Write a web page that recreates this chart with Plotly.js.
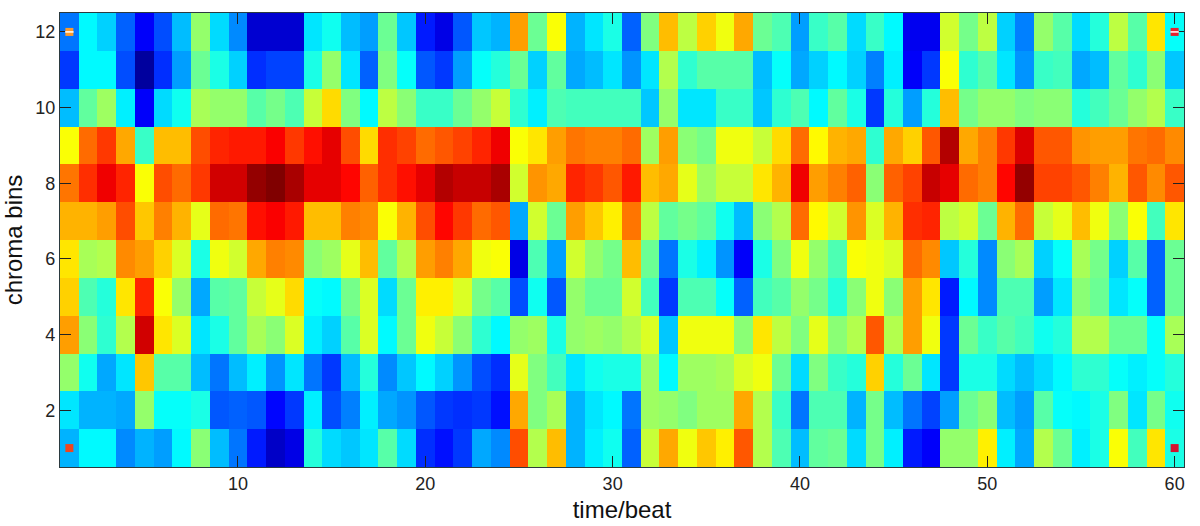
<!DOCTYPE html>
<html>
<head>
<meta charset="utf-8">
<script src="https://cdn.plot.ly/plotly-3.0.1.min.js"></script>
<style>
  html, body { margin: 0; padding: 0; background: #fff; }
  #chart { width: 1200px; height: 526px; }
</style>
</head>
<body>
<div id="chart"></div>
<script>
// Chroma level per beat (0 = dark blue, 100 = dark red)
const row12 = [24,37,33,22,12,20,31,52,34,26,8,8,8,35,39,31,28,48,32,15,10,21,32,30,72,48,62,30,35,40,22,50,69,56,67,61,71,48,45,28,43,46,34,43,37,11,11,58,49,56,33,25,52,46,34,41,56,46,65,38]
const row11 = [18,37,37,20,3,17,28,48,40,33,17,19,19,40,52,35,22,50,38,21,18,28,38,41,48,33,47,29,31,35,27,35,55,42,46,46,46,31,38,29,33,37,33,25,36,12,18,62,42,46,35,27,43,44,29,31,47,42,51,32]
const row10 = [31,47,53,36,12,34,39,54,52,52,46,49,45,57,66,50,37,56,51,43,43,48,52,57,42,36,45,44,44,44,44,32,52,35,35,43,43,32,42,45,37,47,40,18,41,28,41,69,49,52,52,50,51,51,41,44,48,52,55,43]
const row9 = [62,77,82,71,43,69,69,80,84,85,85,88,82,86,90,80,66,83,81,77,79,81,84,89,62,65,72,76,75,75,77,53,72,51,49,61,61,57,66,77,63,70,71,42,71,67,79,95,71,75,82,91,79,79,73,72,72,76,77,74]
const row8 = [76,83,89,84,62,80,77,82,92,92,98,100,96,90,90,87,78,83,86,90,95,93,93,96,58,73,71,84,82,79,85,69,71,60,53,57,57,65,70,89,72,75,78,51,78,81,93,90,77,75,87,98,81,81,79,75,70,79,74,79]
const row7 = [70,70,72,80,68,75,70,60,77,76,86,88,85,69,69,75,74,62,70,80,87,82,77,79,29,58,48,72,68,64,76,56,47,49,47,39,31,51,55,77,63,58,73,59,70,83,84,56,58,48,70,77,57,60,69,61,51,62,44,65]
const row6 = [65,54,55,74,72,67,59,40,61,58,71,75,74,51,53,60,69,47,55,72,75,71,61,62,10,45,28,58,52,49,69,48,24,40,36,27,12,40,50,61,52,45,62,61,59,77,74,32,41,26,51,54,33,38,54,49,33,46,22,48]
const row5 = [67,45,41,65,84,62,52,29,46,47,57,60,66,38,37,49,59,34,48,64,64,59,49,46,20,39,21,52,48,48,58,44,18,45,45,38,22,44,46,52,49,41,51,61,51,72,65,15,37,26,45,45,28,35,51,48,35,38,22,48]
const row4 = [72,51,42,55,92,65,59,35,40,47,54,51,59,36,33,46,59,37,48,61,57,51,42,37,52,53,40,52,53,52,55,59,32,61,61,61,51,65,56,50,60,51,55,79,55,72,61,18,48,43,46,44,39,41,55,55,48,48,38,54]
const row3 = [52,39,29,35,68,46,46,31,24,31,36,27,35,24,18,31,41,26,32,37,33,27,20,17,60,50,44,35,39,40,40,53,37,53,53,54,59,61,48,34,50,43,41,67,41,48,35,18,40,40,34,31,34,37,42,42,38,36,38,41]
const row2 = [35,30,30,29,52,38,38,40,21,22,21,13,18,36,20,25,36,29,27,21,18,17,18,14,71,50,54,30,35,37,24,53,52,50,53,53,71,55,43,24,45,45,30,49,31,24,19,28,48,51,31,28,46,38,37,40,50,35,49,39]
const row1 = [30,37,37,26,30,28,37,51,31,24,15,7,10,41,34,32,35,46,34,17,14,18,29,26,80,55,69,30,36,39,22,57,71,61,68,64,79,55,45,31,47,48,34,49,36,15,12,52,52,64,36,29,55,48,36,40,62,44,65,40]

const beats = Array.from({ length: 60 }, (_, i) => i + 1)
const bins = Array.from({ length: 12 }, (_, i) => i + 1)

const cornerX = [1, 1, 60, 60]
const cornerY = [1, 12, 1, 12]
const cornerColors = ["#f0451f", "#fb9a2c", "#d4122f", "#e8202e"]
const dashX = [1, 60]
const dashY = [12, 12]

const xTicks = [10, 20, 30, 40, 50, 60]
const yTicks = [2, 4, 6, 8, 10, 12]
const xRange = [0.5, 60.5]
const yRange = [0.5, 12.5]

const jet = [
  [0, "rgb(0,0,128)"],
  [0.125, "rgb(0,0,255)"],
  [0.375, "rgb(0,255,255)"],
  [0.625, "rgb(255,255,0)"],
  [0.875, "rgb(255,0,0)"],
  [1, "rgb(128,0,0)"],
]

const traces = [
  {
    type: "heatmap",
    x: beats,
    y: bins,
    z: [row1, row2, row3, row4, row5, row6, row7, row8, row9, row10, row11, row12],
    zmin: 0,
    zmax: 100,
    colorscale: jet,
    showscale: false,
  },
  // Markers on a second, hidden subplot so they sit on top of the ticks
  {
    type: "scatter",
    mode: "markers",
    x: cornerX,
    y: cornerY,
    xaxis: "x2",
    yaxis: "y2",
    marker: { symbol: "square", size: 8, color: cornerColors },
    showlegend: false,
  },
  {
    type: "scatter",
    mode: "markers",
    x: dashX,
    y: dashY,
    xaxis: "x2",
    yaxis: "y2",
    marker: { symbol: "line-ew", size: 6, line: { color: "#ffffff", width: 1.5 } },
    showlegend: false,
  },
]

const axisFont = { family: "Liberation Sans, Arial, sans-serif", size: 18, color: "#222" }
const titleFont = { family: "Liberation Sans, Arial, sans-serif", size: 24, color: "#111" }

const layout = {
  width: 1200,
  height: 526,
  margin: { l: 60, r: 15.5, t: 12.5, b: 58.5 },
  paper_bgcolor: "#ffffff",
  plot_bgcolor: "rgba(0,0,0,0)",
  showlegend: false,
  xaxis: {
    range: xRange,
    tickvals: xTicks,
    ticktext: xTicks.map(String),
    ticks: "inside",
    ticklen: 11,
    tickwidth: 1.3,
    tickcolor: "#222",
    tickfont: axisFont,
    showgrid: false,
    zeroline: false,
    showline: true,
    linecolor: "#2b3a3f",
    linewidth: 1.3,
    mirror: "ticks",
    title: { text: "time/beat", font: titleFont, standoff: 8 },
  },
  yaxis: {
    range: yRange,
    tickvals: yTicks,
    ticktext: yTicks.map(String),
    ticks: "inside",
    ticklen: 11,
    tickwidth: 1.3,
    tickcolor: "#222",
    tickfont: axisFont,
    showgrid: false,
    zeroline: false,
    showline: true,
    linecolor: "#2b3a3f",
    linewidth: 1.3,
    mirror: "ticks",
    title: { text: "chroma bins", font: titleFont, standoff: 8 },
  },
  xaxis2: { range: xRange, domain: [0, 1], anchor: "y2", visible: false },
  yaxis2: { range: yRange, domain: [0, 1], anchor: "x2", visible: false },
}

Plotly.newPlot("chart", traces, layout, { displayModeBar: false })
</script>
</body>
</html>
